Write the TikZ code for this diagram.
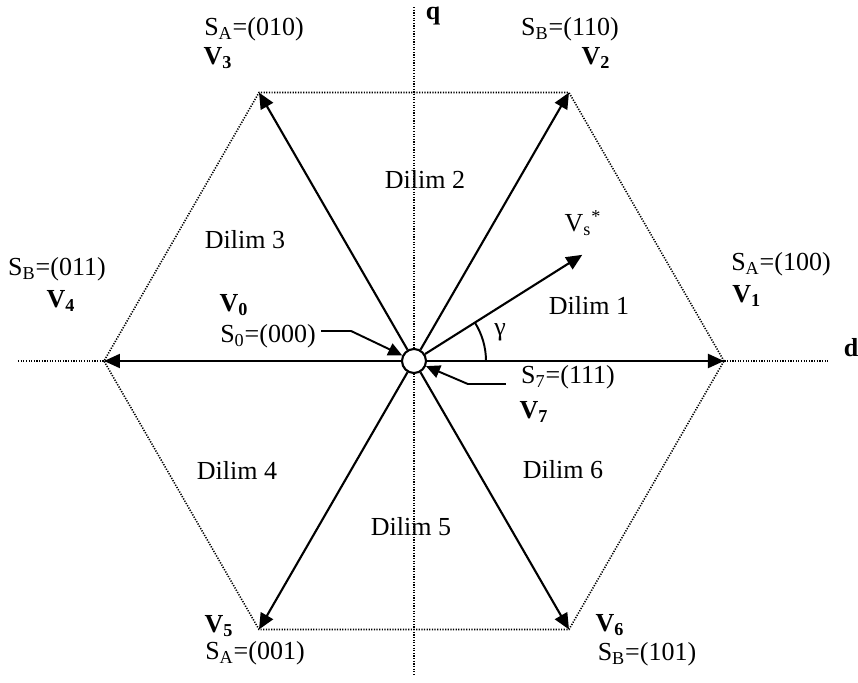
\documentclass[tikz,border=0pt]{standalone}
\usepackage{fontspec}
\setmainfont{Liberation Serif}
\usetikzlibrary{arrows.meta,positioning}

\begin{document}
\begin{tikzpicture}[
  font=\fontsize{14.8}{17}\selectfont,
  vec/.style={-{Triangle[length=0.32cm,width=0.28cm]}, line width=1.2pt},
  ptr/.style={-{Triangle[length=0.28cm,width=0.26cm]}, line width=1.1pt},
  hexline/.style={line width=0.9pt, dash pattern=on 0.7pt off 0.8pt},
  axisline/.style={line width=0.9pt, dash pattern=on 0.7pt off 0.8pt},
  lbl/.style={inner sep=0pt},
  origin/.style={circle, draw, fill=white, line width=1.2pt,
                 minimum size=0.48cm, inner sep=0pt},
]
\useasboundingbox (-8.28,-6.42) rectangle (8.88,7.22);

% Axes
\coordinate (dl) at (-7.92,0);
\coordinate (dr) at ( 8.28,0);
\coordinate (qt) at (0, 7.08);
\coordinate (qb) at (0,-6.28);
\draw[axisline] (dl)--(dr);
\draw[axisline] (qt)--(qb);
\node[lbl] (dlab) at (8.74,0.26) {\textbf{d}};
\node[lbl] (qlab) at (0.38,6.9) {\textbf{q}};

% Hexagon
\foreach \i/\a in {1/0,2/60,3/120,4/180,5/240,6/300}
  \coordinate (v\i) at (\a:6.2);
\draw[hexline] (v1)--(v2)--(v3)--(v4)--(v5)--(v6)--cycle;

% Centre
\node[origin] (o) at (0,0) {};

% Vectors
\foreach \i in {1,...,6}
  \draw[vec] (o) -- (v\i);
\coordinate (vs) at (32.25:3.98);
\draw[vec] (o) -- (vs);
\draw[line width=1.1pt] (1.44,0) arc[start angle=0, end angle=32.25, radius=1.44];
\node[lbl] (gam) at (1.72,0.58) {γ};
\node[lbl] (vslab) at (3.38,2.76) {V\textsubscript{s}\textsuperscript{*}};

% Switching states
\node[lbl] (s010) at (-3.2, 6.64) {S\textsubscript{A}=(010)};
\node[lbl] (lv3)  at (-3.92,6.06) {\textbf{V\textsubscript{3}}};
\node[lbl] (s110) at ( 3.12,6.64) {S\textsubscript{B}=(110)};
\node[lbl] (lv2)  at ( 3.64,6.06) {\textbf{V\textsubscript{2}}};
\node[lbl] (s011) at (-7.14,1.84) {S\textsubscript{B}=(011)};
\node[lbl] (lv4)  at (-7.06,1.2) {\textbf{V\textsubscript{4}}};
\node[lbl] (s100) at ( 7.34,1.94) {S\textsubscript{A}=(100)};
\node[lbl, anchor=west] (lv1) at (6.36,1.3) {\textbf{V\textsubscript{1}}};
\node[lbl] (lv5)  at (-3.9,-5.3) {\textbf{V\textsubscript{5}}};
\node[lbl] (s001) at (-3.18,-5.84) {S\textsubscript{A}=(001)};
\node[lbl] (lv6)  at ( 3.92,-5.28) {\textbf{V\textsubscript{6}}};
\node[lbl] (s101) at ( 4.66,-5.86) {S\textsubscript{B}=(101)};

% Zero vectors
\node[lbl] (lv0) at (-3.6,1.12) {\textbf{V\textsubscript{0}}};
\node[lbl] (s0)  at (-2.92,0.5) {S\textsubscript{0}=(000)};
\draw[ptr] ([xshift=0.1cm,yshift=0.1cm]s0.east) -- ++(0.6,0) -- (o);
\node[lbl] (s7)  at (3.08,-0.32) {S\textsubscript{7}=(111)};
\node[lbl] (lv7) at (2.4,-1.02) {\textbf{V\textsubscript{7}}};
\draw[ptr] ([xshift=-0.3cm,yshift=-0.14cm]s7.west) -- ++(-0.76,0) -- (o);

% Sectors
\node[lbl] (dil1) at ( 3.5, 1.12) {Dilim 1};
\node[lbl] (dil2) at ( 0.22,3.64) {Dilim 2};
\node[lbl] (dil3) at (-3.38,2.42) {Dilim 3};
\node[lbl] (dil4) at (-3.54,-2.18) {Dilim 4};
\node[lbl] (dil5) at (-0.06,-3.32) {Dilim 5};
\node[lbl] (dil6) at ( 2.98,-2.18) {Dilim 6};

\end{tikzpicture}
\end{document}
